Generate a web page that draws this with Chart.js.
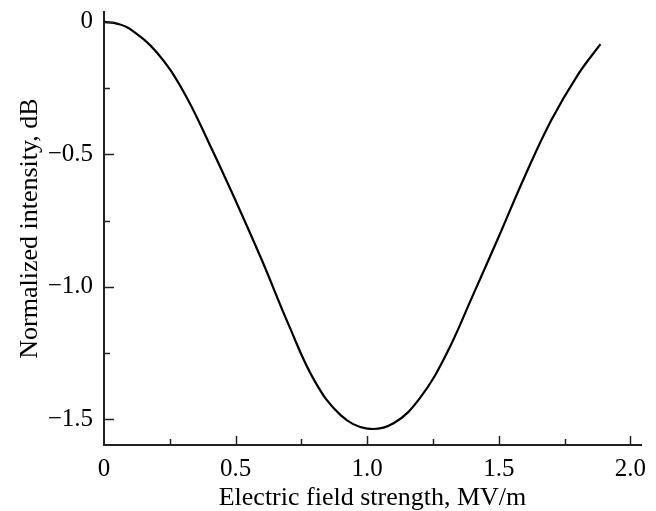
<!DOCTYPE html>
<html>
<head>
<meta charset="utf-8">
<script src="https://cdn.jsdelivr.net/npm/chart.js@4.4.1/dist/chart.umd.min.js"></script>
<style>
  html, body { margin: 0; padding: 0; background: #fff; }
  #wrap { width: 656px; height: 511px; }
</style>
</head>
<body>
<div id="wrap"><canvas id="canvas" width="656" height="511"></canvas></div>
<script>
// values
const fieldStrength = [0, 0.05, 0.1, 0.2, 0.3, 0.4, 0.5, 0.6, 0.7, 0.8, 0.9, 1.0, 1.1, 1.2, 1.3, 1.4, 1.5, 1.6, 1.7, 1.8, 1.886];
const intensity = [0, -0.007, -0.028, -0.115, -0.26, -0.46, -0.675, -0.9, -1.14, -1.355, -1.485, -1.535, -1.515, -1.42, -1.255, -1.035, -0.81, -0.58, -0.37, -0.2, -0.084];

const xTicks = [0, 0.5, 1.0, 1.5, 2.0];
const xTickLabels = ['0', '0.5', '1.0', '1.5', '2.0'];
const xMinor = [0.25, 0.75, 1.25, 1.75];
const yTicks = [0, -0.5, -1.0, -1.5];
const yTickLabels = ['0', '\u22120.5', '\u22121.0', '\u22121.5'];
const yMinor = [-0.25, -0.75, -1.25];

const axisColor = '#222';
const serif = 'Liberation Serif, Times New Roman, serif';

const points = fieldStrength.map(function (v, i) { return { x: v, y: intensity[i] }; });

// ticks point inward, so draw them ourselves from the scales
const innerTicks = {
  id: 'innerTicks',
  afterDraw: function (chart) {
    const ctx = chart.ctx;
    const area = chart.chartArea;
    const xs = chart.scales.x;
    const ys = chart.scales.y;
    ctx.save();
    ctx.strokeStyle = axisColor;
    ctx.lineWidth = 1.5;
    function xt(v, len) {
      const px = Math.round(xs.getPixelForValue(v)) + 0.5;
      ctx.beginPath();
      ctx.moveTo(px, area.bottom);
      ctx.lineTo(px, area.bottom - len);
      ctx.stroke();
    }
    function yt(v, len) {
      const py = Math.round(ys.getPixelForValue(v)) + 0.5;
      ctx.beginPath();
      ctx.moveTo(area.left, py);
      ctx.lineTo(area.left + len, py);
      ctx.stroke();
    }
    xTicks.forEach(function (v) { if (v > 0) xt(v, 9); });
    xMinor.forEach(function (v) { xt(v, 6); });
    yTicks.forEach(function (v) { yt(v, 10); });
    yMinor.forEach(function (v) { yt(v, 6); });
    ctx.restore();
  }
};

const canvas = document.getElementById('canvas');
const chart = new Chart(canvas, {
  type: 'line',
  data: {
    datasets: [{
      data: points,
      borderColor: '#000',
      borderWidth: 2.2,
      pointRadius: 0,
      fill: false,
      tension: 0.4,
    }],
  },
  options: {
    responsive: false,
    animation: false,
    devicePixelRatio: 1,
    layout: { padding: { top: 12, right: 15, left: 0, bottom: 0 } },
    plugins: { legend: { display: false }, tooltip: { enabled: false } },
    scales: {
      x: {
        type: 'linear',
        min: 0,
        max: 2.04,
        afterBuildTicks: function (scale) {
          scale.ticks = xTicks.map(function (v) { return { value: v }; });
        },
        afterFit: function (scale) {
          scale.height = 66;
          scale.paddingLeft = 0;
          scale.paddingRight = 0;
        },
        grid: { display: true, drawOnChartArea: false, drawTicks: false },
        border: { display: true, color: axisColor, width: 2 },
        ticks: {
          padding: 9,
          maxRotation: 0,
          color: '#000',
          font: { family: serif, size: 25 },
          callback: function (value) {
            const i = xTicks.indexOf(value);
            return i >= 0 ? xTickLabels[i] : '';
          },
        },
        title: {
          display: true,
          text: 'Electric field strength, MV/m',
          color: '#000',
          font: { family: serif, size: 26, lineHeight: 1 },
          padding: { top: 0, bottom: 0 },
        },
      },
      y: {
        type: 'linear',
        min: -1.597,
        max: 0.037,
        afterBuildTicks: function (scale) {
          scale.ticks = yTicks.map(function (v) { return { value: v }; });
        },
        afterFit: function (scale) {
          scale.width = 104;
          scale.paddingTop = 0;
          scale.paddingBottom = 0;
        },
        grid: { display: true, drawOnChartArea: false, drawTicks: false },
        border: { display: true, color: axisColor, width: 2 },
        ticks: {
          padding: 11,
          color: '#000',
          font: { family: serif, size: 25 },
          callback: function (value) {
            const i = yTicks.indexOf(value);
            return i >= 0 ? yTickLabels[i] : '';
          },
        },
        title: {
          display: true,
          text: 'Normalized intensity, dB',
          color: '#000',
          font: { family: serif, size: 26, lineHeight: 1 },
          padding: { top: 17, bottom: 0 },
        },
      },
    },
  },
  plugins: [innerTicks],
});
</script>
</body>
</html>
